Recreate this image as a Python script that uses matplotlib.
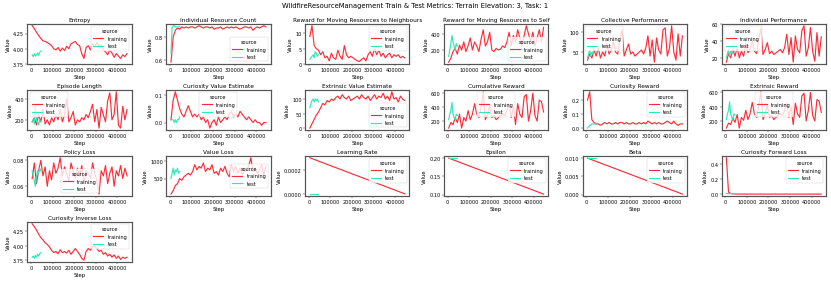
import numpy as np
import matplotlib
matplotlib.use("Agg")
import matplotlib.pyplot as plt

# Steps logged during training / test runs
TRAIN_STEPS = np.arange(5000, 455000, 10000)
TEST_STEPS = np.arange(5000, 50000, 5000)
X_TICKS = [0, 100000, 200000, 300000, 400000]

TRAIN_COLOR = "#ff2a36"
TEST_COLOR = "#2ee8b8"

SUPTITLE = "WildfireResourceManagement Train & Test Metrics: Terrain Elevation: 3, Task: 1"

entropy_train = [4.38, 4.33, 4.27, 4.22, 4.17, 4.13, 4.12, 4.10, 4.08, 4.05, 4.00, 3.98, 4.02, 3.96, 4.01,
                 3.97, 4.04, 4.00, 4.08, 4.10, 4.12, 4.07, 4.05, 3.92, 3.84, 4.02, 4.05, 3.98, 4.08, 4.02,
                 4.10, 4.05, 4.06, 3.98, 3.95, 3.90, 3.98, 3.93, 3.86, 3.92, 3.88, 3.84, 3.90, 3.87, 3.92]
entropy_test = [3.90, 3.87, 3.92, 3.88, 3.90, 3.93, 3.89, 3.94, 3.96]
entropy_yticks = [3.75, 4.00, 4.25]

resource_count_train = [0.58, 0.80, 0.86, 0.88, 0.87, 0.89, 0.88, 0.89, 0.88, 0.89, 0.89, 0.88, 0.89, 0.90, 0.89,
                        0.88, 0.89, 0.89, 0.88, 0.89, 0.87, 0.88, 0.88, 0.89, 0.87, 0.88, 0.89, 0.88, 0.89, 0.88,
                        0.89, 0.88, 0.87, 0.88, 0.89, 0.89, 0.88, 0.89, 0.86, 0.88, 0.89, 0.88, 0.89, 0.90, 0.89]
resource_count_test = [0.66, 0.88, 0.90, 0.90, 0.89, 0.89, 0.89, 0.89, 0.89]
resource_count_yticks = [0.6, 0.8]

reward_neigh_train = [9.0, 12.5, 6.0, 5.0, 4.5, 3.0, 4.0, 2.0, 2.5, 1.0, 3.5, 2.0, 1.5, 4.5, 2.5,
                      1.5, 6.0, 3.0, 2.0, 2.5, 2.0, 1.5, 1.0, 0.8, 1.5, 2.0, 1.0, 3.0, 4.0, 2.5,
                      5.0, 3.0, 4.5, 2.5, 3.5, 2.0, 3.0, 3.5, 2.0, 3.0, 2.5, 3.0, 2.0, 2.5, 2.0]
reward_neigh_test = [1.5, 2.0, 2.5, 3.0, 2.0, 4.0, 3.5, 2.5, 3.0]
reward_neigh_yticks = [0, 5, 10]

reward_self_train = [50, 100, 180, 220, 150, 260, 200, 300, 180, 250, 350, 200, 300, 250, 180,
                     330, 450, 250, 300, 420, 200, 180, 220, 200, 210, 250, 230, 300, 420, 250,
                     380, 300, 450, 350, 250, 380, 500, 400, 300, 420, 250, 350, 450, 300, 480]
reward_self_test = [120, 200, 280, 380, 300, 250, 200, 280, 250]
reward_self_yticks = [200, 400]

collective_perf_train = [30, 45, 35, 55, 40, 60, 35, 50, 40, 70, 45, 55, 75, 50, 45,
                         80, 105, 40, 55, 70, 45, 50, 40, 45, 50, 55, 45, 60, 90, 40,
                         80, 25, 85, 55, 45, 105, 110, 40, 60, 115, 50, 30, 95, 40, 90]
collective_perf_test = [35, 45, 55, 40, 50, 45, 60, 55, 50]
collective_perf_yticks = [50, 100]

individual_perf_train = [15, 25, 20, 30, 22, 32, 20, 28, 22, 38, 26, 30, 40, 28, 25,
                         42, 55, 24, 30, 38, 25, 28, 24, 26, 28, 30, 26, 32, 48, 24,
                         44, 15, 46, 30, 26, 52, 58, 22, 32, 56, 28, 16, 50, 22, 45]
individual_perf_test = [20, 25, 30, 22, 28, 25, 32, 30, 28]
individual_perf_yticks = [20, 40, 60]

episode_len_train = [180, 220, 150, 250, 180, 300, 160, 200, 150, 220, 180, 250, 200, 300, 180,
                     250, 400, 180, 220, 280, 150, 200, 180, 220, 200, 250, 220, 280, 350, 180,
                     300, 120, 320, 250, 180, 380, 460, 200, 250, 470, 150, 120, 330, 200, 300]
episode_len_test = [180, 200, 160, 350, 200, 180, 150, 200, 180]
episode_len_yticks = [200, 400]

curiosity_value_train = [0.01, 0.08, 0.11, 0.08, 0.05, 0.03, 0.02, 0.04, 0.06, 0.04, 0.02, 0.03, 0.02, 0.03, 0.01,
                         0.02, 0.00, 0.01, -0.02, 0.00, 0.01, -0.01, 0.02, 0.00, 0.01, 0.02, 0.01, 0.03, 0.04, 0.02,
                         0.03, 0.02, 0.04, 0.03, 0.02, 0.01, 0.02, 0.01, 0.00, 0.01, 0.00, 0.00, -0.01, 0.00, 0.00]
curiosity_value_test = [0.01, 0.01, 0.01, 0.00, 0.01, 0.00, 0.01, 0.01, 0.02]
curiosity_value_yticks = [0.0, 0.1]

extrinsic_value_train = [0, 15, 30, 45, 55, 70, 85, 80, 95, 90, 100, 95, 105, 110, 100,
                         115, 105, 100, 110, 95, 100, 105, 110, 100, 115, 105, 100, 110, 95, 105,
                         115, 100, 110, 105, 120, 100, 110, 95, 125, 100, 105, 90, 110, 100, 95]
extrinsic_value_test = [70, 85, 95, 100, 90, 100, 95, 100, 90]
extrinsic_value_yticks = [0, 50, 100]

cumulative_reward_train = [100, 180, 150, 250, 180, 300, 100, 250, 200, 350, 220, 300, 450, 300, 250,
                           400, 620, 220, 300, 420, 250, 280, 220, 250, 280, 300, 280, 350, 450, 250,
                           400, 150, 450, 300, 250, 550, 580, 200, 350, 600, 280, 200, 500, 480, 330]
cumulative_reward_test = [220, 300, 350, 470, 300, 250, 220, 300, 280]
cumulative_reward_yticks = [200, 400, 600]

curiosity_reward_train = [0.20, 0.26, 0.06, 0.04, 0.03, 0.03, 0.02, 0.03, 0.04, 0.03, 0.04, 0.03, 0.03, 0.04, 0.03,
                          0.04, 0.04, 0.03, 0.04, 0.03, 0.03, 0.04, 0.03, 0.03, 0.04, 0.03, 0.04, 0.03, 0.05, 0.04,
                          0.03, 0.04, 0.03, 0.04, 0.03, 0.03, 0.04, 0.05, 0.04, 0.03, 0.05, 0.03, 0.02, 0.03, 0.03]
curiosity_reward_test = [0.00, 0.01, 0.02, 0.02, 0.03, 0.03, 0.03, 0.03, 0.03]
curiosity_reward_yticks = [0.0, 0.1, 0.2]

extrinsic_reward_train = [100, 170, 150, 240, 180, 290, 100, 250, 210, 350, 220, 300, 460, 300, 250,
                          400, 610, 220, 300, 420, 250, 280, 220, 250, 280, 300, 280, 350, 450, 250,
                          400, 150, 450, 300, 250, 550, 590, 200, 350, 600, 280, 200, 500, 480, 320]
extrinsic_reward_test = [220, 300, 350, 470, 300, 250, 220, 300, 280]
extrinsic_reward_yticks = [200, 400, 600]

policy_loss_train = [0.066, 0.078, 0.062, 0.072, 0.080, 0.068, 0.075, 0.060, 0.072, 0.065, 0.078, 0.070, 0.074,
                     0.082, 0.068, 0.075, 0.070, 0.064, 0.078, 0.072, 0.066, 0.074, 0.068, 0.076, 0.062, 0.072,
                     0.070, 0.066, 0.078, 0.070, 0.064, 0.054, 0.072, 0.068, 0.076, 0.062, 0.070, 0.075, 0.060,
                     0.072, 0.068, 0.076, 0.066, 0.074, 0.068]
policy_loss_test = [0.072, 0.068, 0.064, 0.060, 0.068, 0.072, 0.070, 0.074, 0.072]
policy_loss_yticks = [0.06, 0.08]

value_loss_train = [50, 150, 300, 350, 500, 450, 550, 600, 650, 600, 700, 900, 750, 850, 800,
                    950, 700, 800, 750, 900, 650, 700, 600, 800, 700, 850, 650, 550, 900, 700,
                    850, 650, 800, 600, 700, 750, 850, 1100, 700, 800, 650, 750, 900, 600, 850]
value_loss_test = [500, 650, 800, 600, 750, 700, 800, 650, 700]
value_loss_yticks = [500, 1000]

learning_rate_train = [0.000297, 0.000290, 0.000283, 0.000277, 0.000270, 0.000263, 0.000257, 0.000250, 0.000243,
                       0.000237, 0.000230, 0.000223, 0.000217, 0.000210, 0.000203, 0.000197, 0.000190, 0.000183,
                       0.000177, 0.000170, 0.000163, 0.000157, 0.000150, 0.000143, 0.000137, 0.000130, 0.000123,
                       0.000117, 0.000110, 0.000103, 0.000097, 0.000090, 0.000083, 0.000077, 0.000070, 0.000063,
                       0.000057, 0.000050, 0.000043, 0.000037, 0.000030, 0.000023, 0.000017, 0.000010, 0.000003]
learning_rate_test = [0.000001, 0.000001, 0.000001, 0.000001, 0.000001, 0.000001, 0.000001, 0.000001, 0.000001]
learning_rate_yticks = [0.0, 0.0002]

epsilon_train = [0.1989, 0.1967, 0.1944, 0.1922, 0.1900, 0.1878, 0.1856, 0.1833, 0.1811, 0.1789, 0.1767, 0.1744,
                 0.1722, 0.1700, 0.1678, 0.1656, 0.1633, 0.1611, 0.1589, 0.1567, 0.1544, 0.1522, 0.1500, 0.1478,
                 0.1456, 0.1433, 0.1411, 0.1389, 0.1367, 0.1344, 0.1322, 0.1300, 0.1278, 0.1256, 0.1233, 0.1211,
                 0.1189, 0.1167, 0.1144, 0.1122, 0.1100, 0.1078, 0.1056, 0.1033, 0.1011]
epsilon_test = [0.1999, 0.1999, 0.1999, 0.1999, 0.1999, 0.1999, 0.1999, 0.1999, 0.1999]
epsilon_yticks = [0.10, 0.15, 0.20]

beta_train = [0.00989, 0.00967, 0.00944, 0.00922, 0.00900, 0.00878, 0.00856, 0.00833, 0.00811, 0.00789, 0.00767,
              0.00744, 0.00722, 0.00700, 0.00678, 0.00656, 0.00633, 0.00611, 0.00589, 0.00567, 0.00544, 0.00522,
              0.00500, 0.00478, 0.00456, 0.00433, 0.00411, 0.00389, 0.00367, 0.00344, 0.00322, 0.00300, 0.00278,
              0.00256, 0.00233, 0.00211, 0.00189, 0.00167, 0.00144, 0.00122, 0.00100, 0.00078, 0.00056, 0.00033,
              0.00011]
beta_test = [0.00999, 0.00999, 0.00999, 0.00999, 0.00999, 0.00999, 0.00999, 0.00999, 0.00999]
beta_yticks = [0.000, 0.005, 0.010]

forward_loss_train = [0.48, 0.03, 0.012, 0.008, 0.006, 0.005, 0.005, 0.004, 0.005, 0.004, 0.004, 0.004, 0.005,
                      0.004, 0.004, 0.004, 0.005, 0.004, 0.004, 0.004, 0.004, 0.004, 0.005, 0.004, 0.004, 0.004,
                      0.004, 0.004, 0.005, 0.004, 0.004, 0.004, 0.004, 0.004, 0.004, 0.004, 0.004, 0.004, 0.004,
                      0.004, 0.004, 0.004, 0.004, 0.004, 0.004]
forward_loss_test = [0.012, 0.011, 0.010, 0.010, 0.010, 0.009, 0.009, 0.009, 0.009]
forward_loss_yticks = [0.0, 0.2, 0.4]

inverse_loss_train = [4.38, 4.33, 4.27, 4.20, 4.14, 4.10, 4.05, 4.02, 3.98, 3.92, 3.88, 3.90, 3.86, 3.93, 3.88,
                      3.90, 3.87, 3.92, 3.85, 3.90, 3.95, 3.90, 3.85, 3.78, 3.75, 3.90, 3.95, 3.92, 3.98, 4.00,
                      3.95, 3.90, 3.92, 3.85, 3.88, 3.82, 3.85, 3.80, 3.84, 3.78, 3.82, 3.76, 3.80, 3.78, 3.80]
inverse_loss_test = [3.80, 3.82, 3.78, 3.83, 3.80, 3.85, 3.82, 3.86, 3.88]
inverse_loss_yticks = [3.75, 4.00, 4.25]

# (title, training values, test values, y ticks, legend location)
PANELS = [
    ("Entropy", entropy_train, entropy_test, entropy_yticks, "upper right"),
    ("Individual Resource Count", resource_count_train, resource_count_test, resource_count_yticks, "lower right"),
    ("Reward for Moving Resources to Neighbours", reward_neigh_train, reward_neigh_test, reward_neigh_yticks,
     "upper right"),
    ("Reward for Moving Resources to Self", reward_self_train, reward_self_test, reward_self_yticks, "lower right"),
    ("Collective Performance", collective_perf_train, collective_perf_test, collective_perf_yticks, "upper left"),
    ("Individual Performance", individual_perf_train, individual_perf_test, individual_perf_yticks, "upper left"),
    ("Episode Length", episode_len_train, episode_len_test, episode_len_yticks, "upper left"),
    ("Curiosity Value Estimate", curiosity_value_train, curiosity_value_test, curiosity_value_yticks,
     "upper center"),
    ("Extrinsic Value Estimate", extrinsic_value_train, extrinsic_value_test, extrinsic_value_yticks,
     "lower right"),
    ("Cumulative Reward", cumulative_reward_train, cumulative_reward_test, cumulative_reward_yticks,
     "upper center"),
    ("Curiosity Reward", curiosity_reward_train, curiosity_reward_test, curiosity_reward_yticks, "upper right"),
    ("Extrinsic Reward", extrinsic_reward_train, extrinsic_reward_test, extrinsic_reward_yticks, "upper center"),
    ("Policy Loss", policy_loss_train, policy_loss_test, policy_loss_yticks, "lower center"),
    ("Value Loss", value_loss_train, value_loss_test, value_loss_yticks, "center right"),
    ("Learning Rate", learning_rate_train, learning_rate_test, learning_rate_yticks, "upper right"),
    ("Epsilon", epsilon_train, epsilon_test, epsilon_yticks, "upper right"),
    ("Beta", beta_train, beta_test, beta_yticks, "upper right"),
    ("Curiosity Forward Loss", forward_loss_train, forward_loss_test, forward_loss_yticks, "upper right"),
    ("Curiosity Inverse Loss", inverse_loss_train, inverse_loss_test, inverse_loss_yticks, "upper right"),
]


def draw_panel(ax, title, train, test, yticks, loc):
    """Plot one metric with training and test curves."""
    ax.plot(TRAIN_STEPS, train, color=TRAIN_COLOR, lw=2.4, label="training")
    ax.plot(TEST_STEPS, test, color=TEST_COLOR, lw=2.4, label="test")
    ax.set_title(title, fontsize=12)
    ax.set_xlabel("Step", fontsize=11)
    ax.set_ylabel("Value", fontsize=11)
    ax.tick_params(labelsize=10.5)
    ax.set_xticks(X_TICKS)
    ax.set_yticks(yticks)
    ax.ticklabel_format(axis="x", style="plain")
    for spine in ax.spines.values():
        spine.set_linewidth(2.5)
        spine.set_color("#555555")
    ax.legend(title="source", loc=loc, fontsize=10.5, title_fontsize=10.5)


def main():
    fig, axes = plt.subplots(4, 6, figsize=(24, 8.172), dpi=34.625)
    axes = axes.ravel()
    for ax, (title, train, test, yticks, loc) in zip(axes, PANELS):
        draw_panel(ax, title, train, test, yticks, loc)
    for ax in axes[len(PANELS):]:
        ax.remove()
    fig.suptitle(SUPTITLE, fontsize=14, y=0.99)
    fig.subplots_adjust(left=0.033, right=0.994, top=0.912, bottom=0.071,
                        wspace=0.33, hspace=0.65)
    fig.savefig("out.png", dpi=34.625)


if __name__ == "__main__":
    main()
